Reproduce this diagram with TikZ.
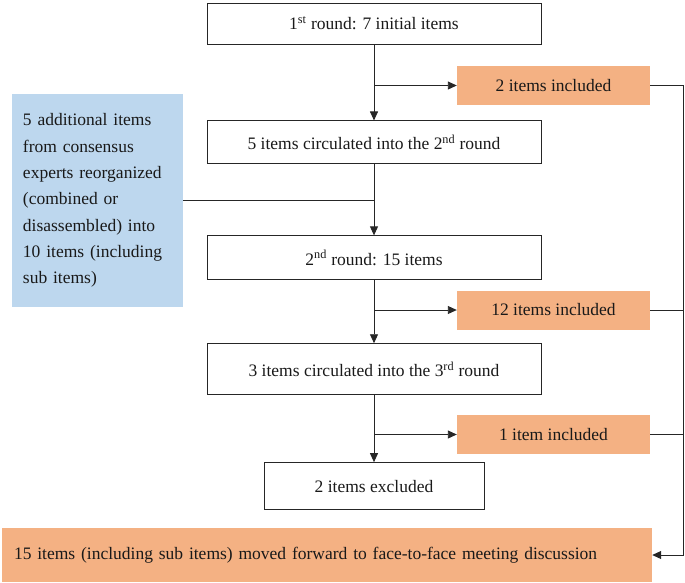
\documentclass[tikz,border=0pt]{standalone}
\usepackage{fontspec}
\setmainfont{Liberation Serif}
\usepackage{xcolor}
\usepackage{tikz}
\usetikzlibrary{arrows.meta,positioning,calc}
\definecolor{incorange}{HTML}{F4B183}
\definecolor{addblue}{HTML}{BDD7EE}
\newcommand{\boxfont}{\fontsize{17.5}{26.3}\selectfont}

\begin{document}
\begin{tikzpicture}[x=1pt, y=-1pt,
    box/.style={draw=black!85, line width=0.9pt, minimum width=334pt,
                minimum height=#1, inner sep=0pt, font=\boxfont,
                text=black!90},
    box/.default=43pt,
    inc/.style={fill=incorange, minimum width=193pt, minimum height=39pt,
                inner sep=0pt, font=\boxfont, text=black!90},
    arr/.style={-{Triangle[length=9pt,width=8pt]}, line width=0.9pt, black!85},
    lin/.style={line width=0.9pt, black!85}
]
\useasboundingbox (0,0) rectangle (685,582);

\node[box=41pt]                   (r1) at (374,23.5) {1\textsuperscript{st} round: 7 initial items};
\node[box=43pt, below=76pt of r1] (c2) {5 items circulated into the 2\textsuperscript{nd} round};
\node[box=44pt, below=71pt of c2] (r2) {2\textsuperscript{nd} round: 15 items};
\node[box=51pt, below=63pt of r2] (c3) {3 items circulated into the 3\textsuperscript{rd} round};
\node[box=47pt, minimum width=220pt, below=67pt of c3] (ex) {2 items excluded};

\node[inc] (in1) at (553.5,85.5) {2 items included};
\node[inc] (in2) at (553.5,310)  {12 items included};
\node[inc] (in3) at (553.5,434.5) {1 item included};

\node[fill=addblue, minimum width=171pt, minimum height=213pt,
      text width=149pt, inner xsep=11pt, inner ysep=0pt, align=left,
      font=\boxfont, text=black!90] (add) at (97.5,200.5)
     {5 additional items\\
      from consensus\\
      experts reorganized\\
      (combined or\\
      disassembled) into\\
      10 items (including\\
      sub items)};

\node[inc, minimum width=650pt, minimum height=54pt, text width=626pt,
      inner xsep=12pt, align=left] (fin) at (327,555)
     {15 items (including sub items) moved forward to face-to-face meeting discussion};

\coordinate (bus) at (683,555);

\draw[arr] (r1) -- (c2);
\draw[arr] (r1.south |- in1.west) -- (in1.west);
\draw[arr] (c2) -- (r2);
\draw[lin] (add.east) -- (add.east -| c2.south);
\draw[arr] (r2) -- (c3);
\draw[arr] (r2.south |- in2.west) -- (in2.west);
\draw[arr] (c3.south) -- (c3.south |- ex.north);
\draw[arr] (c3.south |- in3.west) -- (in3.west);

\draw[arr] (in1.east) -| (bus) -- (fin.east);
\draw[lin] (in2.east) -- (in2.east -| bus);
\draw[lin] (in3.east) -- (in3.east -| bus);
\end{tikzpicture}
\end{document}
